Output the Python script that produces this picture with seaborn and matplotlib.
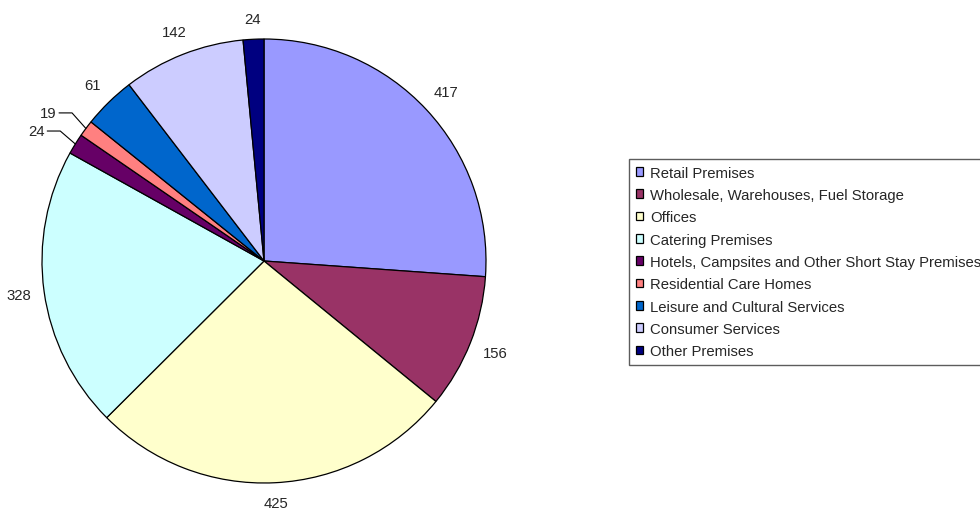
import numpy as np
import matplotlib
matplotlib.use('Agg')
import matplotlib.pyplot as plt
import seaborn as sns

categories = ['Retail Premises', 'Wholesale, Warehouses, Fuel Storage', 'Offices',
              'Catering Premises', 'Hotels, Campsites and Other Short Stay Premises',
              'Residential Care Homes', 'Leisure and Cultural Services',
              'Consumer Services', 'Other Premises']
values = [417, 156, 425, 328, 24, 19, 61, 142, 24]
colors = ['#9999FF', '#993366', '#FFFFCC', '#CCFFFF', '#660066',
          '#FF8080', '#0066CC', '#CCCCFF', '#000080']
# slices whose labels sit outside with a leader line
leader = [4, 5]

sns.set_style('white')
plt.rcParams['font.family'] = ['Liberation Sans', 'DejaVu Sans']
fs = 10.7

fig = plt.figure(figsize=(9.8, 5.1), dpi=100)
# pie radius = 222 px, centre at (264, 262) px from top-left
R = 222
ax = fig.add_axes([0, 0, 528 / 980, 496 / 510])
palette = sns.color_palette(colors)
wedges, _ = ax.pie(values, colors=palette, startangle=90, counterclock=False,
                   wedgeprops=dict(edgecolor='black', linewidth=0.9))
ax.set_xlim(-264 / R, 264 / R)
ax.set_ylim(-248 / R, 248 / R)
ax.set_aspect('auto')
ax.axis('off')

for i, (w, v) in enumerate(zip(wedges, values)):
    mid = np.deg2rad((w.theta1 + w.theta2) / 2)
    c, s = np.cos(mid), np.sin(mid)
    if i in leader:
        a = mid + np.deg2rad(1.2)
        tx, ty = 1.15 * np.cos(a), 1.15 * np.sin(a)
        ax.text(tx, ty, str(v), ha='right', va='center', fontsize=fs)
        x0 = tx + 3 / R
        ax.plot([x0, x0 + 13 / R, c], [ty, ty, s], color='black', lw=0.8)
    else:
        hw = len(str(v)) * 4.15 / R
        d = 1 + 12 / R + abs(c) * hw + abs(s) * 8 / R
        ax.text(d * c, d * s, str(v), ha='center', va='center', fontsize=fs)

leg = fig.legend(wedges, categories, loc='upper left',
                 bbox_to_anchor=(629 / 980, 1 - 160 / 510),
                 bbox_transform=fig.transFigure, frameon=True, fancybox=False,
                 edgecolor='#333333', borderaxespad=0, borderpad=0.45,
                 handlelength=0.5, handleheight=0.5, handletextpad=0.45,
                 labelspacing=0.56, fontsize=fs)
leg.get_frame().set_linewidth(1.0)

fig.savefig('out.png', dpi=100)
